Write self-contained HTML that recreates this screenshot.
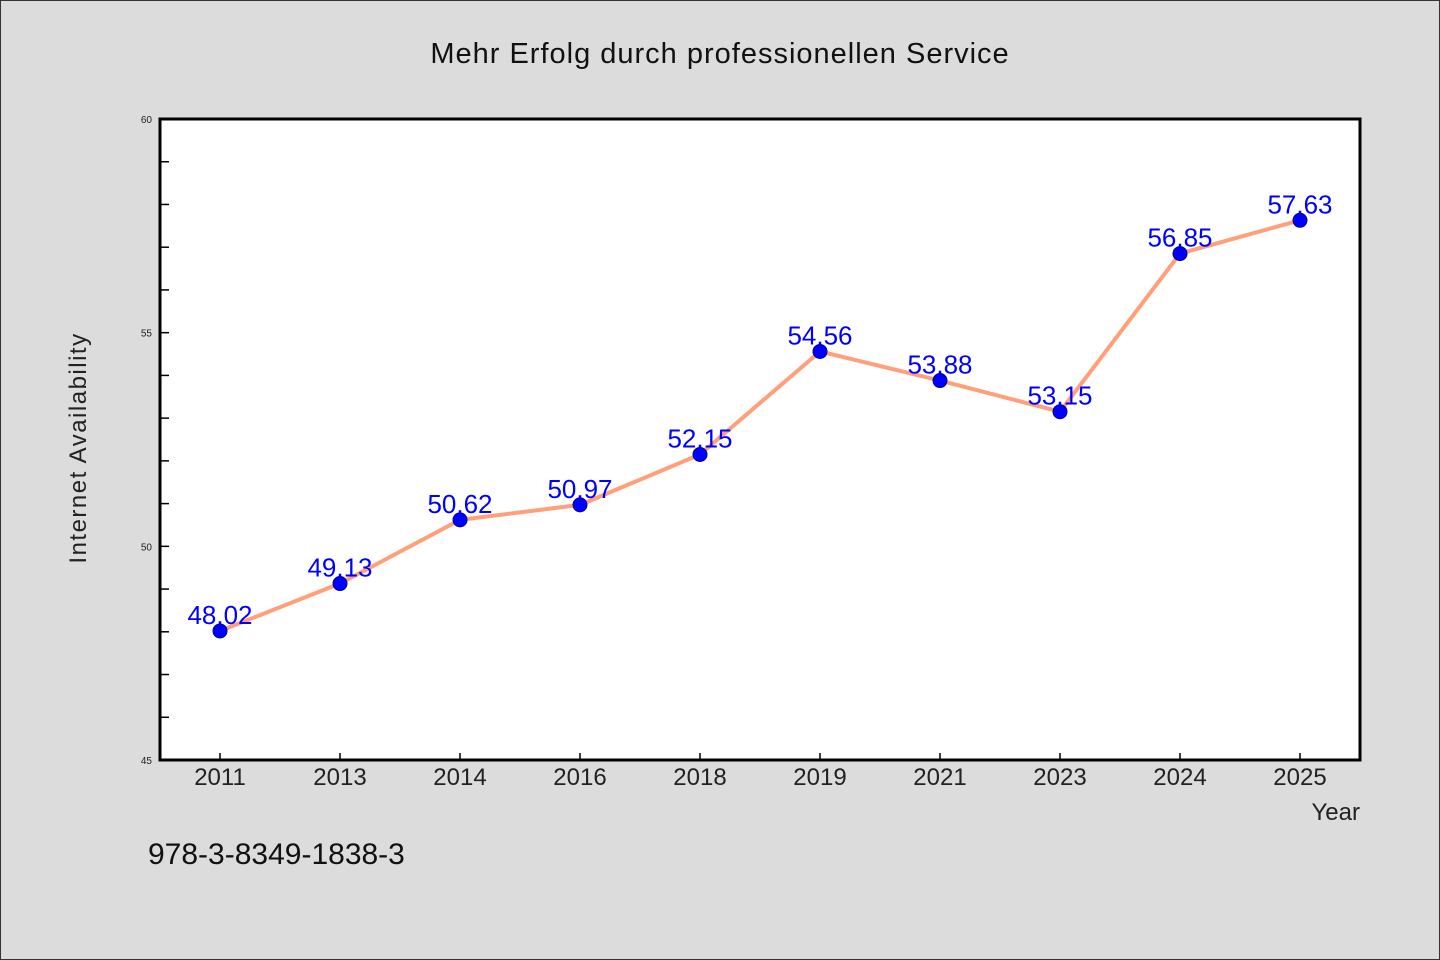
<!DOCTYPE html>
<html><head><meta charset="utf-8"><style>
body{margin:0;background:#dcdcdc;}
svg{display:block;font-family:"WenQuanYi Zen Hei","Liberation Sans",sans-serif;}
</style></head><body>
<svg id="c" width="1440" height="960">
<rect x="0.5" y="0.5" width="1439" height="959" fill="#dcdcdc" stroke="#333"/>
<text x="720" y="63" text-anchor="middle" font-size="29" fill="#111" letter-spacing="1">Mehr Erfolg durch professionellen Service</text>
<rect x="160" y="119" width="1200" height="641" fill="#fff"/>
<g id="ticks"></g>
<g id="marks"></g>
<rect x="160" y="119" width="1200" height="641" fill="none" stroke="#000" stroke-width="3"/>
<text transform="translate(86,448) rotate(-90)" text-anchor="middle" font-size="24" fill="#222" letter-spacing="1.5">Internet Availability</text>
<text x="1360" y="820" text-anchor="end" font-size="24" fill="#222">Year</text>
<text x="148" y="864" font-size="30" fill="#111">978-3-8349-1838-3</text>
</svg>
<script>
const categories=["2011","2013","2014","2016","2018","2019","2021","2023","2024","2025"];
const values=[48.02,49.13,50.62,50.97,52.15,54.56,53.88,53.15,56.85,57.63];
const yTickLabels=[45,50,55,60];
const ns="http://www.w3.org/2000/svg";
const L=160,R=1360,T=119,B=760,yMin=45,yMax=60;
const y=v=>B-(v-yMin)/(yMax-yMin)*(B-T);
const x=i=>L+(i+0.5)*(R-L)/categories.length;
function mk(t,a,p){const e=document.createElementNS(ns,t);for(const k in a)e.setAttribute(k,a[k]);p.appendChild(e);return e;}
const tg=document.getElementById('ticks'),mg=document.getElementById('marks');
for(let v=yMin+1;v<yMax;v++){const l=mk('line',{x1:L,x2:L+9,y1:y(v),y2:y(v),stroke:'#000','stroke-width':1.5},tg);

}
yTickLabels.forEach(v=>{const t=mk('text',{x:L-8,y:y(v)+4,'text-anchor':'end','font-size':10,fill:'#222'},tg);t.textContent=v;

});
categories.forEach((c,i)=>{const l=mk('line',{x1:x(i),x2:x(i),y1:B,y2:B-7,stroke:'#000','stroke-width':1.5},tg);


const t=mk('text',{x:x(i),y:B+25,'text-anchor':'middle','font-size':24,fill:'#222'},tg);t.textContent=c;

});
const pl=mk('polyline',{points:values.map((v,i)=>x(i)+','+y(v)).join(' '),fill:'none',stroke:'#ffa07a','stroke-width':4,'stroke-linejoin':'round'},mg);


values.forEach((v,i)=>{const c=mk('circle',{cx:x(i),cy:y(v),r:7,fill:'#0000ff',stroke:'#00008b','stroke-width':1},mg);

});
values.forEach((v,i)=>{const t=mk('text',{x:x(i),y:y(v)-7,'text-anchor':'middle','font-size':26,fill:'#0000ff'},mg);t.textContent=v.toFixed(2);

});
</script>
</body></html>
